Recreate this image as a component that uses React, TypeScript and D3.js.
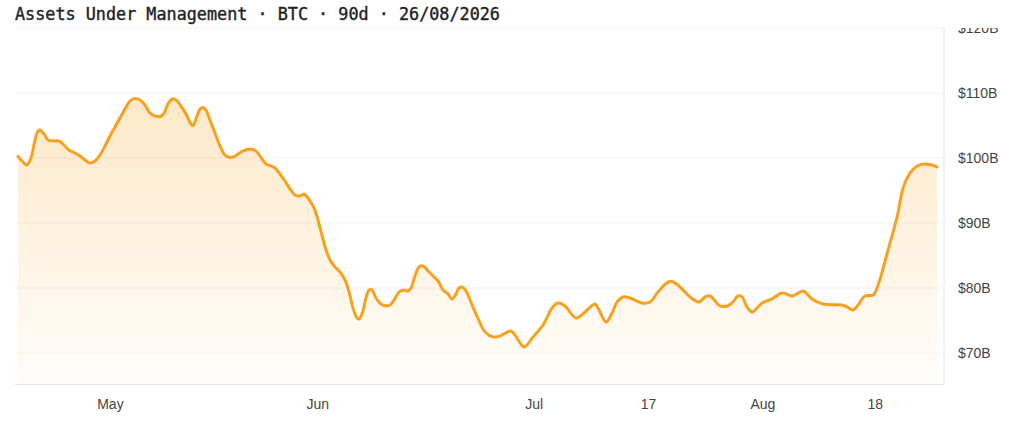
import { useEffect, useRef } from "react"
import * as d3 from "d3"

const title = "Assets Under Management · BTC · 90d · 26/08/2026"

// day offset inside the 90d window
const days = [
  0, 0.39, 0.88, 1.27, 1.67, 1.96, 2.15, 2.55, 2.94, 3.53, 4.02, 4.51, 4.99, 5.58, 6.07, 6.56, 7.05, 7.54, 8.03, 8.52,
  9.01, 9.5, 9.99, 10.48, 10.97, 11.46, 11.95, 12.44, 12.93, 13.42, 13.91, 14.3, 14.69, 15.08, 15.47, 15.96, 16.45, 16.94, 17.14, 17.53,
  17.83, 18.12, 18.41, 18.8, 19.29, 19.78, 20.18, 20.57, 21.06, 21.55, 22.04, 22.53, 23.02, 23.41, 23.9, 24.29, 24.78, 25.17, 25.66, 26.15,
  26.64, 27.13, 27.62, 28.01, 28.4, 28.99, 29.38, 29.77, 30.17, 30.56, 31.05, 31.54, 32.03, 32.42, 32.81, 33.2, 33.4, 33.69, 34.08, 34.38,
  34.67, 35.06, 35.55, 36.04, 36.43, 36.83, 37.32, 37.71, 38.2, 38.49, 38.88, 39.27, 39.67, 40.16, 40.65, 41.14, 41.63, 42.12, 42.51, 42.9,
  43.19, 43.49, 43.88, 44.27, 44.76, 45.25, 45.74, 46.52, 47.21, 48.26, 48.68, 49.56, 50.44, 51.42, 52.3, 52.89, 53.57, 54.65, 55.53, 56.51,
  56.81, 57.59, 58.18, 58.67, 59.25, 59.94, 61.11, 61.9, 62.68, 63.66, 64.15, 64.84, 65.82, 66.7, 67.29, 67.78, 68.76, 69.45, 69.93, 70.52,
  70.91, 71.4, 71.89, 72.87, 73.85, 74.83, 75.81, 76.89, 77.77, 78.84, 80.7, 81.19, 81.78, 82.27, 82.95, 83.74, 84.23, 85.21, 86.09, 86.68,
  87.36, 88.05, 88.83, 89.52, 90,
]

// $B
const aum = [
  100.23, 99.54, 98.92, 100.0, 102.77, 104.15, 104.31, 103.69, 102.77, 102.62, 102.62, 102.0, 101.23, 100.77, 100.31, 99.69, 99.23, 99.54, 100.46, 101.85,
  103.38, 104.77, 106.15, 107.54, 108.77, 109.15, 108.92, 108.15, 106.92, 106.46, 106.38, 106.92, 108.31, 109.08, 108.92, 108.0, 106.77, 105.23, 104.97, 106.46,
  107.54, 107.77, 107.38, 105.85, 103.85, 101.85, 100.62, 100.15, 100.15, 100.62, 101.08, 101.31, 101.31, 100.92, 99.85, 99.08, 98.77, 98.46, 97.54, 96.46,
  95.23, 94.31, 94.15, 94.46, 93.85, 92.31, 90.46, 88.15, 85.85, 84.31, 83.23, 82.46, 81.23, 79.38, 76.92, 75.38, 75.23, 76.0, 78.46, 79.69,
  79.69, 78.46, 77.54, 77.23, 77.38, 78.15, 79.38, 79.69, 79.54, 80.0, 81.85, 83.23, 83.38, 82.62, 81.85, 81.08, 79.69, 79.08, 78.31, 79.08,
  80.0, 80.15, 79.54, 78.15, 76.31, 74.62, 73.23, 72.46, 72.62, 73.38, 72.77, 70.92, 72.46, 74.31, 76.92, 77.69, 77.23, 75.38, 76.31, 77.54,
  76.92, 74.77, 76.15, 77.85, 78.62, 78.46, 77.69, 77.85, 79.38, 80.92, 80.92, 80.15, 78.62, 77.85, 78.62, 78.77, 77.23, 77.23, 77.69, 78.77,
  78.62, 77.08, 76.31, 77.69, 78.31, 79.23, 78.77, 79.54, 78.31, 77.54, 77.38, 77.08, 76.62, 77.38, 78.77, 78.92, 80.46, 85.85, 90.92, 95.38,
  97.69, 98.77, 99.08, 98.92, 98.62,
]

const yTicks = [70, 80, 90, 100, 110, 120]
const xTickDays = [9, 29.3, 50.5, 61.7, 72.9, 83.9]
const xTickLabels = ["May", "Jun", "Jul", "17", "Aug", "18"]

export default function App() {
  const ref = useRef<SVGSVGElement | null>(null)

  useEffect(() => {
    const svg = d3.select(ref.current)
    svg.selectAll("*").remove()

    const width = 1024
    const height = 423
    const plot = { left: 15, right: 944, top: 28, bottom: 384.5 }

    const x = d3.scaleLinear().domain([0, 90]).range([18, 937])
    const y = d3.scaleLinear().domain([65.15, 120]).range([plot.bottom, plot.top])

    svg.attr("width", width).attr("height", height)

    const defs = svg.append("defs")
    const grad = defs.append("linearGradient")
      .attr("id", "aumFill")
      .attr("gradientUnits", "userSpaceOnUse")
      .attr("x1", 0).attr("x2", 0)
      .attr("y1", y(110)).attr("y2", plot.bottom)
    grad.append("stop").attr("offset", 0).attr("stop-color", "#f7a11e").attr("stop-opacity", 0.25)
    grad.append("stop").attr("offset", 1).attr("stop-color", "#f7a11e").attr("stop-opacity", 0.02)

    // the top label is cut by the plot's upper edge; coordinates are local to the axis group
    defs.append("clipPath").attr("id", "labelClip")
      .append("rect")
      .attr("x", 0).attr("y", plot.top)
      .attr("width", width - plot.right).attr("height", height - plot.top)

    // Grid
    svg.append("g")
      .selectAll("line")
      .data(yTicks)
      .enter()
      .append("line")
      .attr("x1", plot.left)
      .attr("x2", plot.right)
      .attr("y1", d => y(d))
      .attr("y2", d => y(d))
      .attr("stroke", "#f3f3f3")

    const points = days.map((d, i) => [d, aum[i]] as [number, number])

    // Area + line
    const area = d3.area<[number, number]>()
      .x(d => x(d[0]))
      .y0(plot.bottom)
      .y1(d => y(d[1]))
      .curve(d3.curveCatmullRom.alpha(0.5))

    const line = d3.line<[number, number]>()
      .x(d => x(d[0]))
      .y(d => y(d[1]))
      .curve(d3.curveCatmullRom.alpha(0.5))

    svg.append("path").datum(points).attr("d", area).attr("fill", "url(#aumFill)")
    svg.append("path").datum(points).attr("d", line)
      .attr("fill", "none")
      .attr("stroke", "#f7a11e")
      .attr("stroke-width", 3)
      .attr("stroke-linejoin", "round")
      .attr("stroke-linecap", "round")

    // X Axis
    const xAxis = svg.append("g")
      .attr("transform", `translate(0,${plot.bottom})`)
      .call(d3.axisBottom(x)
        .tickValues(xTickDays)
        .tickFormat((_, i) => xTickLabels[i])
        .tickSize(0)
        .tickPadding(15))
    xAxis.select("path").remove()
    xAxis.selectAll("text")
      .style("fill", "#444")
      .style("font-family", "'Liberation Sans', sans-serif")
      .style("font-size", "14px")

    svg.append("line")
      .attr("x1", plot.left).attr("x2", plot.right)
      .attr("y1", plot.bottom).attr("y2", plot.bottom)
      .attr("stroke", "#e6e6e6")

    // Y Axis
    const yAxis = svg.append("g")
      .attr("transform", `translate(${plot.right},0)`)
      .attr("clip-path", "url(#labelClip)")
      .call(d3.axisRight(y)
        .tickValues(yTicks)
        .tickFormat(d => `$${d}B`)
        .tickSize(0)
        .tickPadding(14))
    yAxis.select("path").remove()
    yAxis.selectAll("text")
      .style("fill", "#444")
      .style("font-family", "'Liberation Sans', sans-serif")
      .style("font-size", "14px")

    svg.append("line")
      .attr("x1", plot.right).attr("x2", plot.right)
      .attr("y1", plot.top).attr("y2", plot.bottom)
      .attr("stroke", "#e6e6e6")

    // Title: regular weight with a hairline stroke, bold mono is too heavy here
    svg.append("text")
      .attr("x", 15)
      .attr("y", 20)
      .attr("fill", "#1f2328")
      .attr("stroke", "#1f2328")
      .attr("stroke-width", 0.4)
      .style("font-family", "'DejaVu Sans Mono', monospace")
      .style("font-size", "16.8px")
      .text(title)
  }, [])

  return <svg ref={ref} style={{ position: "absolute", left: 0, top: 0 }} />
}
